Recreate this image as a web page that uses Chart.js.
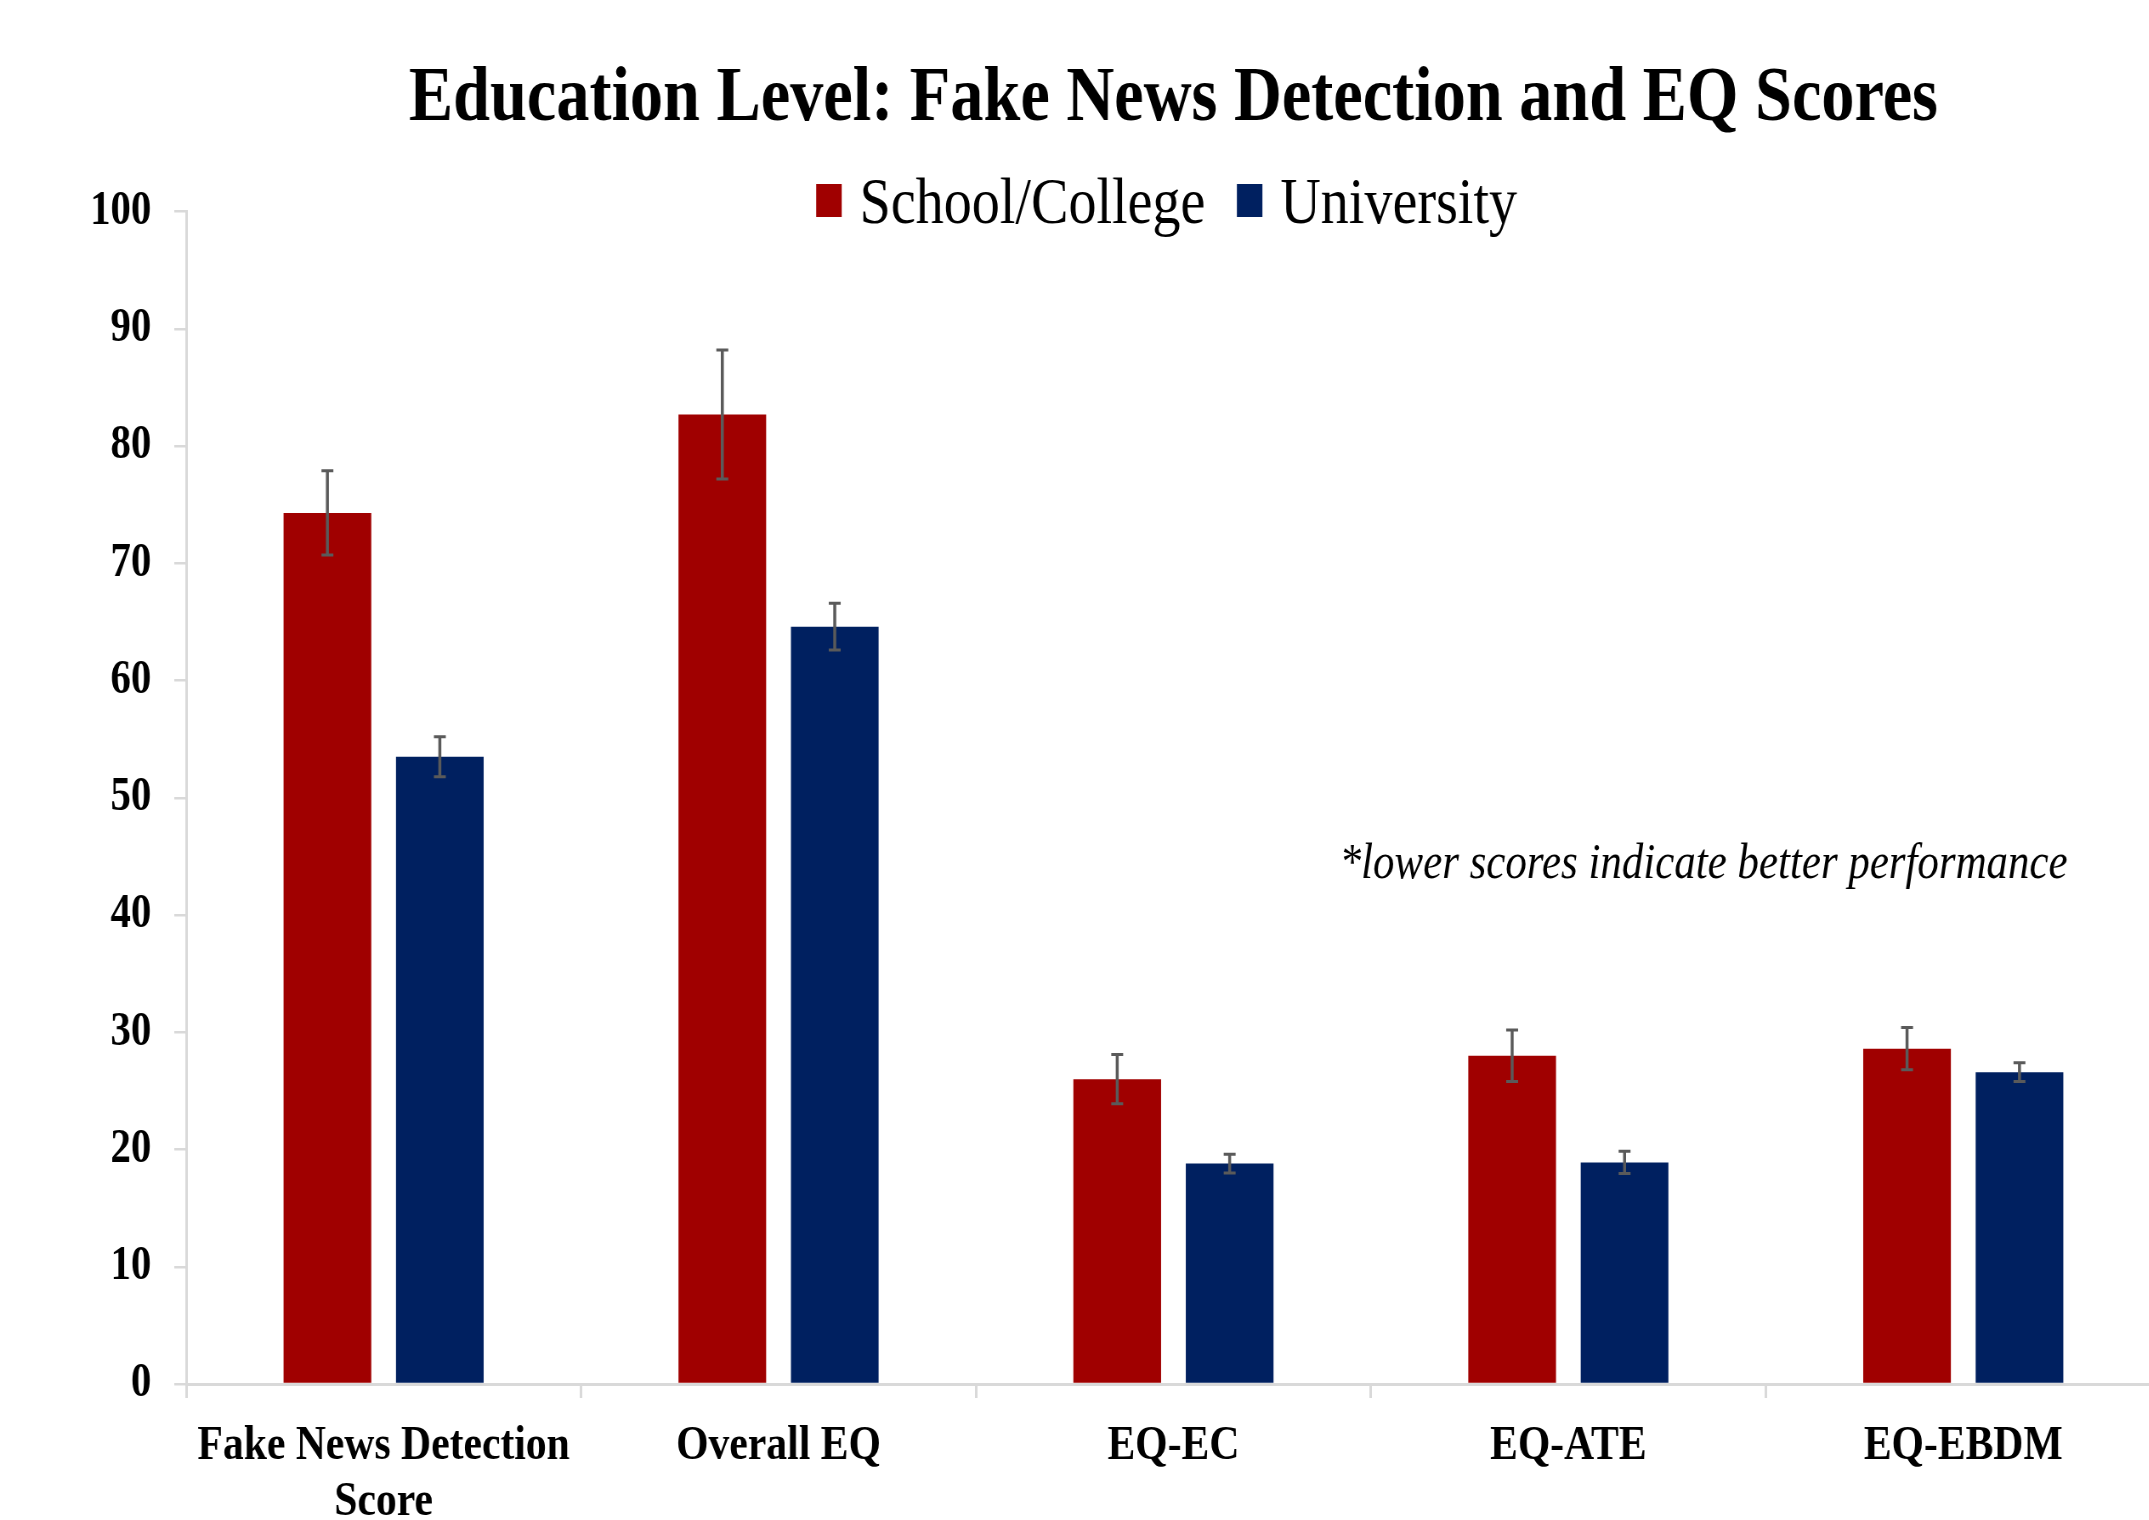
<!DOCTYPE html>
<html>
<head>
<meta charset="utf-8">
<script src="https://cdn.jsdelivr.net/npm/chart.js@4.4.1/dist/chart.umd.min.js"></script>
<style>
  html, body { margin: 0; padding: 0; background: #ffffff; overflow: hidden; }
  #wrap { width: 2149px; height: 1520px; overflow: hidden; position: relative; background: #fff; }
  #c { transform: scaleX(0.85); transform-origin: 0 0; display: block; }
</style>
</head>
<body>
<div id="wrap"><canvas id="c" width="2560" height="1520"></canvas></div>
<script>
// ---- data ----
const categories = [["Fake News Detection", "Score"], "Overall EQ", "EQ-EC", "EQ-ATE", "EQ-EBDM"];
const seriesNames = ["School/College", "University"];
const schoolValues = [74.3, 82.7, 26.0, 28.0, 28.6];
const universityValues = [53.5, 64.6, 18.8, 18.9, 26.6];
const schoolErrors = [3.6, 5.5, 2.1, 2.2, 1.8];
const universityErrors = [1.7, 2.0, 0.8, 0.95, 0.8];
const yTicks = [0, 10, 20, 30, 40, 50, 60, 70, 80, 90, 100];
const titleText = "Education Level: Fake News Detection and EQ Scores";
const noteText = "*lower scores indicate better performance";

const FONT = "'Liberation Serif', 'Times New Roman', Times, serif";
const RED = "#A00000";
const NAVY = "#002060";
const AXIS = "#d9d9d9";

const errorBarsPlugin = {
  id: 'errorBars',
  afterDatasetsDraw(chart) {
    const ctx = chart.ctx;
    const y = chart.scales.y;
    chart.data.datasets.forEach((ds, i) => {
      const meta = chart.getDatasetMeta(i);
      meta.data.forEach((bar, j) => {
        const v = ds.data[j], e = ds.errors[j];
        const top = y.getPixelForValue(v + e);
        const bot = y.getPixelForValue(v - e);
        const cap = 7;
        ctx.save();
        ctx.strokeStyle = '#5a5a5a';
        ctx.lineWidth = 3.5;
        ctx.beginPath();
        ctx.moveTo(bar.x, top); ctx.lineTo(bar.x, bot);
        ctx.stroke();
        ctx.lineWidth = 3;
        ctx.beginPath();
        ctx.moveTo(bar.x - cap, top); ctx.lineTo(bar.x + cap, top);
        ctx.moveTo(bar.x - cap, bot); ctx.lineTo(bar.x + cap, bot);
        ctx.stroke();
        ctx.restore();
      });
    });
  }
};

const legendPlugin = {
  id: 'customLegend',
  afterDraw(chart) {
    const ctx = chart.ctx;
    const ca = chart.chartArea;
    const fontSize = 66;
    ctx.save();
    ctx.font = fontSize + "px " + FONT;
    const boxW = 30, boxH = 33, gapText = 21, gapItem = 37;
    const items = chart.data.datasets.map(ds => ({ label: ds.label, color: ds.backgroundColor, w: ctx.measureText(ds.label).width }));
    let total = 0;
    items.forEach((it, k) => { total += boxW + gapText + it.w + (k < items.length - 1 ? gapItem : 0); });
    let x = (ca.left + ca.right) / 2 - 8 - total / 2;
    const baseline = 223;
    items.forEach(it => {
      ctx.fillStyle = it.color;
      ctx.fillRect(x, 184, boxW, boxH);
      x += boxW + gapText;
      ctx.fillStyle = '#000';
      ctx.textBaseline = 'alphabetic';
      ctx.textAlign = 'left';
      ctx.fillText(it.label, x, baseline);
      x += it.w + gapItem;
    });
    // note
    ctx.font = "italic 50.5px " + FONT;
    ctx.fillStyle = '#000';
    ctx.fillText(noteText, 1576, 878);
    ctx.restore();
  }
};

new Chart(document.getElementById('c'), {
  type: 'bar',
  data: {
    labels: categories,
    datasets: [
      { label: seriesNames[0], data: schoolValues, errors: schoolErrors, backgroundColor: RED,
        categoryPercentage: 0.5694, barPercentage: 0.78 },
      { label: seriesNames[1], data: universityValues, errors: universityErrors, backgroundColor: NAVY,
        categoryPercentage: 0.5694, barPercentage: 0.78 }
    ]
  },
  options: {
    responsive: false,
    animation: false,
    devicePixelRatio: 1,
    layout: { padding: { top: 0, left: 0, right: 18, bottom: 0 } },
    plugins: {
      legend: { display: false },
      tooltip: { enabled: false },
      title: {
        display: true,
        text: titleText,
        fullSize: false,
        color: '#000',
        font: { family: FONT, size: 78, weight: 'bold', lineHeight: 1.2 },
        padding: { top: 53, bottom: 65 }
      }
    },
    scales: {
      x: {
        grid: { display: true, drawOnChartArea: false, drawTicks: true, tickLength: 14, color: AXIS, lineWidth: 3 },
        border: { display: true, color: AXIS, width: 3 },
        ticks: { color: '#000', padding: 20, maxRotation: 0, autoSkip: false,
          font: { family: FONT, size: 49, weight: 'bold', lineHeight: 1.15 } },
        afterFit(scale) { scale.height = 136; }
      },
      y: {
        min: 0, max: 100,
        afterBuildTicks(scale) { scale.ticks = yTicks.map(v => ({ value: v })); },
        grid: { display: true, drawOnChartArea: false, drawTicks: true, tickLength: 14, color: AXIS, lineWidth: 2.5 },
        border: { display: true, color: AXIS, width: 3 },
        ticks: { color: '#000', padding: 27,
          font: { family: FONT, size: 48, weight: 'bold' } },
        afterFit(scale) { scale.width = 219; }
      }
    }
  },
  plugins: [errorBarsPlugin, legendPlugin]
});
</script>
</body>
</html>
